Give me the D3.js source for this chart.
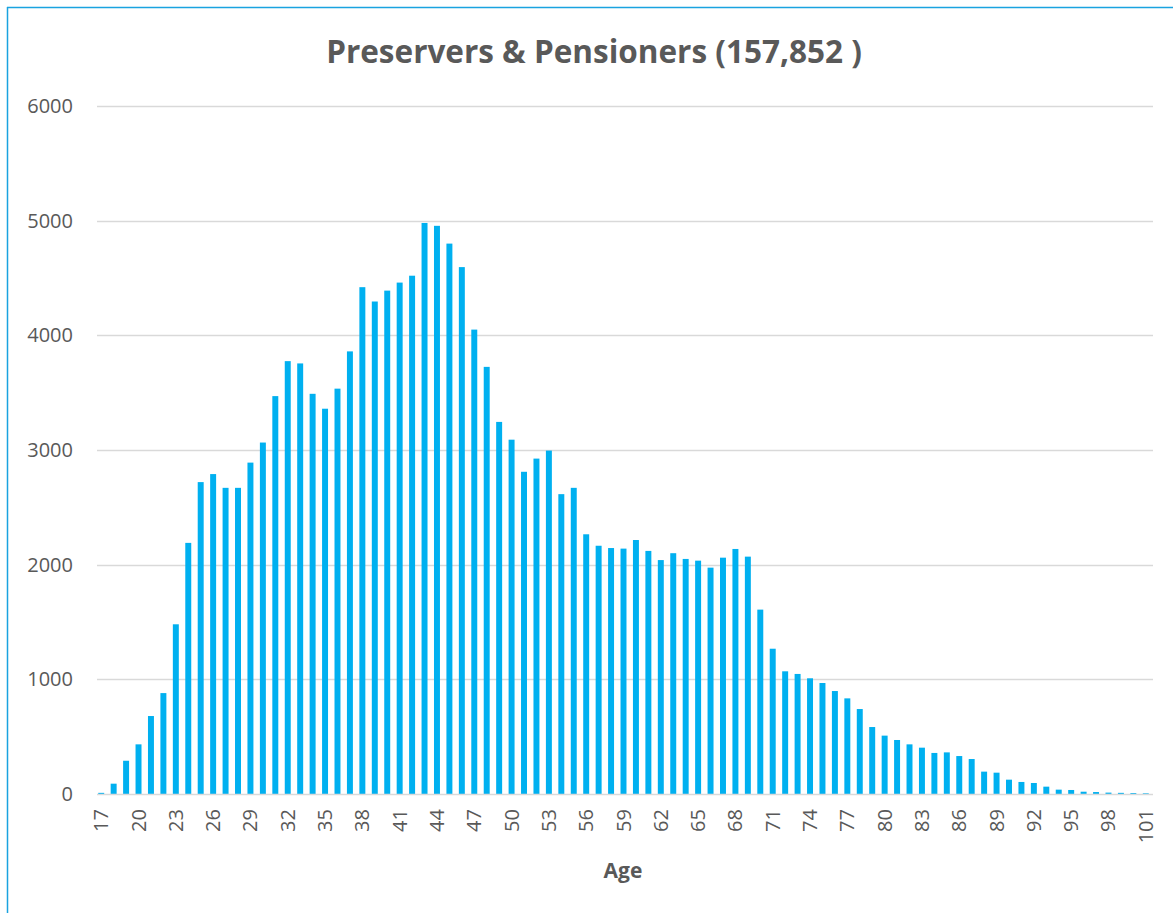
<!DOCTYPE html>
<html>
<head>
<meta charset="utf-8">
<script src="https://cdn.jsdelivr.net/npm/d3@7"></script>
<style>
  body { margin: 0; background: #fff; }
  text { font-family: "Open Sans", sans-serif; fill: #595959; }
</style>
</head>
<body>
<script>
  // ages 17..101 and member counts
  var ages = d3.range(17, 102);
  var counts = [
    10, 90, 290, 433, 680, 880, 1480, 2190,
    2720, 2790, 2670, 2670, 2890, 3065, 3470, 3775,
    3755, 3490, 3360, 3535, 3860, 4420, 4295, 4390,
    4460, 4520, 4980, 4955, 4800, 4595, 4050, 3725,
    3245, 3090, 2810, 2925, 2995, 2615, 2670, 2265,
    2165, 2145, 2140, 2215, 2120, 2040, 2100, 2050,
    2035, 1974, 2061, 2137, 2070, 1608, 1267, 1070,
    1047, 1009, 968, 898, 834, 741, 584, 509,
    471, 433, 404, 358, 363, 331, 305, 195,
    186, 125, 105, 96, 64, 38, 35, 20, 17, 12, 10, 8, 6
  ];
  var yTicks = [0, 1000, 2000, 3000, 4000, 5000, 6000];
  var xTickLabels = ages.filter(function(a) { return (a - 17) % 3 === 0; });
  var title = "Preservers & Pensioners (157,852 )";
  var xTitle = "Age";

  var data = ages.map(function(a, i) { return { age: a, value: counts[i] }; });

  var width = 1173, height = 913;

  var svg = d3.select("body").append("svg")
    .attr("width", width)
    .attr("height", height);

  // blue frame (top and left edges visible)
  svg.append("line")
    .attr("x1", 7).attr("x2", width).attr("y1", 7.5).attr("y2", 7.5)
    .attr("stroke", "#1aa3e0").attr("stroke-width", 1.5);
  svg.append("line")
    .attr("x1", 7.5).attr("x2", 7.5).attr("y1", 7).attr("y2", height)
    .attr("stroke", "#1aa3e0").attr("stroke-width", 1.5);

  var x = d3.scaleBand()
    .domain(ages)
    .range([95, 1152])
    .paddingInner(0.52)
    .paddingOuter(0.26);

  var y = d3.scaleLinear()
    .domain([0, 6000])
    .range([794, 106]);

  // gridlines
  svg.append("g")
    .selectAll("line")
    .data(yTicks.slice(1))
    .enter().append("line")
    .attr("x1", 97).attr("x2", 1153)
    .attr("y1", function(d) { return Math.round(y(d)) + 0.5; })
    .attr("y2", function(d) { return Math.round(y(d)) + 0.5; })
    .attr("stroke", "#d9d9d9")
    .attr("stroke-width", 1.3);

  // y tick labels
  svg.append("g")
    .selectAll("text")
    .data(yTicks)
    .enter().append("text")
    .attr("x", 73)
    .attr("y", function(d) { return y(d) + 7; })
    .style("text-anchor", "end")
    .style("font-size", "20px")
    .text(function(d) { return d; });

  // bars
  svg.append("g")
    .selectAll("rect")
    .data(data)
    .enter().append("rect")
    .attr("x", function(d) { return x(d.age); })
    .attr("width", x.bandwidth())
    .attr("y", function(d) { return y(d.value); })
    .attr("height", function(d) { return y(0) - y(d.value); })
    .style("fill", "#00b0f0");

  // baseline
  svg.append("line")
    .attr("x1", 97).attr("x2", 1153)
    .attr("y1", 794.5).attr("y2", 794.5)
    .attr("stroke", "#d9d9d9")
    .attr("stroke-width", 1.5);

  // x tick labels, rotated
  svg.append("g")
    .selectAll("text")
    .data(xTickLabels)
    .enter().append("text")
    .attr("transform", function(d) {
      return "translate(" + (x(d) + x.bandwidth() / 2 + 7) + ",809) rotate(-90)";
    })
    .style("text-anchor", "end")
    .style("font-size", "20px")
    .text(function(d) { return d; });

  // titles
  svg.append("text")
    .attr("x", 594)
    .attr("y", 63)
    .style("text-anchor", "middle")
    .style("font-size", "31.5px")
    .style("font-weight", "bold")
    .text(title);

  svg.append("text")
    .attr("x", 623)
    .attr("y", 878)
    .style("text-anchor", "middle")
    .style("font-size", "21px")
    .style("font-weight", "bold")
    .text(xTitle);
</script>
</body>
</html>
